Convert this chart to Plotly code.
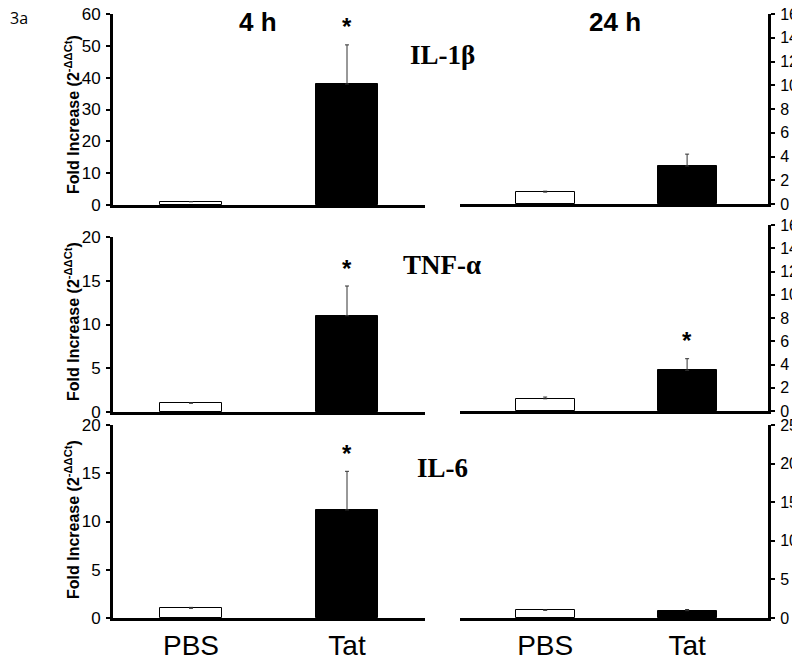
import plotly.graph_objects as go

categories = ["PBS", "Tat"]
time_titles = ["4 h", "24 h"]
genes = ["IL-1β", "TNF-α", "IL-6"]

il1b_4h = [1.0, 38.0]
il1b_4h_err = [0.1, 12.3]
il1b_24h = [1.0, 3.2]
il1b_24h_err = [0.08, 1.0]

tnf_4h = [1.0, 11.0]
tnf_4h_err = [0.05, 3.4]
tnf_24h = [1.05, 3.5]
tnf_24h_err = [0.15, 1.0]

il6_4h = [1.0, 11.2]
il6_4h_err = [0.1, 4.0]
il6_24h = [1.0, 0.95]
il6_24h_err = [0.05, 0.15]

y_ranges = [[0, 60], [0, 16], [0, 20], [0, 16], [0, 20], [0, 25]]
y_dticks = [10, 2, 5, 2, 5, 5]
significant = [[False, True], [False, False], [False, True], [False, True], [False, True], [False, False]]

panels = [
    (il1b_4h, il1b_4h_err), (il1b_24h, il1b_24h_err),
    (tnf_4h, tnf_4h_err), (tnf_24h, tnf_24h_err),
    (il6_4h, il6_4h_err), (il6_24h, il6_24h_err),
]

# page has an 8px body margin; figure sized to fit the 800x660 window
OFF = 8
W, H = 800 - OFF, 660 - OFF
def px_x(p):
    return (p - OFF) / W
def px_y(p):
    return 1 - (p - OFF) / H

# domains (pixel based, in window coordinates)
x_dom = [[px_x(113), px_x(425)], [px_x(460), px_x(768)]]
y_dom = [
    [px_y(205), px_y(14)], [px_y(204), px_y(14)],
    [px_y(412), px_y(237)], [px_y(411), px_y(225)],
    [px_y(618), px_y(425)], [px_y(618), px_y(425)],
]
x_ranges = [[-0.5, 1.5], [-0.6, 1.57]]
bar_widths = [0.4, 0.415]

SANS = "Liberation Sans, Arial, sans-serif"
SERIF = "Liberation Serif, Times New Roman, serif"

fig = go.Figure()
layout = dict(
    template="none",
    width=W, height=H, margin=dict(l=0, r=0, t=0, b=0, pad=0, autoexpand=False),
    paper_bgcolor="white", plot_bgcolor="white", showlegend=False,
    bargap=0,
)

annotations = []
for i, (vals, errs) in enumerate(panels):
    col = i % 2
    row = i // 2
    n = i + 1
    xa = "x" if n == 1 else f"x{n}"
    ya = "y" if n == 1 else f"y{n}"
    fig.add_trace(go.Bar(
        x=categories, y=vals, xaxis=xa, yaxis=ya,
        width=bar_widths[col],
        marker=dict(color=["white", "black"], line=dict(color="black", width=1)),
        error_y=dict(type="data", array=errs, arrayminus=[0, 0], symmetric=False,
                     color="#333333", thickness=1, width=2),
    ))
    xkey = "xaxis" if n == 1 else f"xaxis{n}"
    ykey = "yaxis" if n == 1 else f"yaxis{n}"
    layout[xkey] = dict(
        domain=x_dom[col], anchor=ya, range=x_ranges[col], type="category",
        showline=True, linewidth=3, linecolor="black", ticks="",
        showgrid=False, zeroline=False, automargin=False,
        showticklabels=(row == 2), ticklabeloverflow="allow",
        tickfont=dict(family=SANS, size=28, color="black"),
    )
    layout[ykey] = dict(
        domain=y_dom[i], anchor=xa, range=y_ranges[i], dtick=y_dticks[i],
        side="left" if col == 0 else "right",
        showline=True, linewidth=3, linecolor="black",
        ticks="outside", ticklen=4, tickwidth=2, tickcolor="black",
        showgrid=False, zeroline=False, automargin=False,
        ticklabeloverflow="allow",
        tickfont=dict(family=SANS, size=17 if col == 0 else 16, color="black"),
        ticklabelstandoff=2,
    )
    for j, sig in enumerate(significant[i]):
        if sig:
            annotations.append(dict(
                x=categories[j], y=vals[j] + errs[j], xref=xa, yref=ya,
                text="<b>*</b>", showarrow=False, xanchor="center", yanchor="middle", yshift=18,
                font=dict(family=SANS, size=24, color="black"),
            ))

# time titles
for t, xx in zip(time_titles, [258, 615]):
    annotations.append(dict(x=px_x(xx), y=px_y(22), xref="paper", yref="paper", text=f"<b>{t}</b>",
                            xanchor="center", yanchor="middle",
                            showarrow=False, font=dict(family=SANS, size=26, color="black")))
# gene labels
for g, yy in zip(genes, [55, 265, 468]):
    annotations.append(dict(x=px_x(442), y=px_y(yy), xref="paper", yref="paper", text=f"<b>{g}</b>",
                            xanchor="center", yanchor="middle",
                            showarrow=False, font=dict(family=SERIF, size=27, color="black")))
# y-axis titles
for yy in [115, 322, 520]:
    annotations.append(dict(x=px_x(72), y=px_y(yy), xref="paper", yref="paper",
                            text="<b>Fold Increase (2<sup>-ΔΔCt</sup>)</b>", textangle=-90,
                            xanchor="center", yanchor="middle",
                            showarrow=False, font=dict(family=SANS, size=16, color="black")))
# panel tag
annotations.append(dict(x=px_x(8), y=px_y(18), xref="paper", yref="paper", text="3a",
                        xanchor="left", yanchor="middle", showarrow=False,
                        font=dict(family="Open Sans, Noto Sans, sans-serif", size=16, color="black")))

layout["annotations"] = annotations
fig.update_layout(**layout)
fig.write_html("out.html")
